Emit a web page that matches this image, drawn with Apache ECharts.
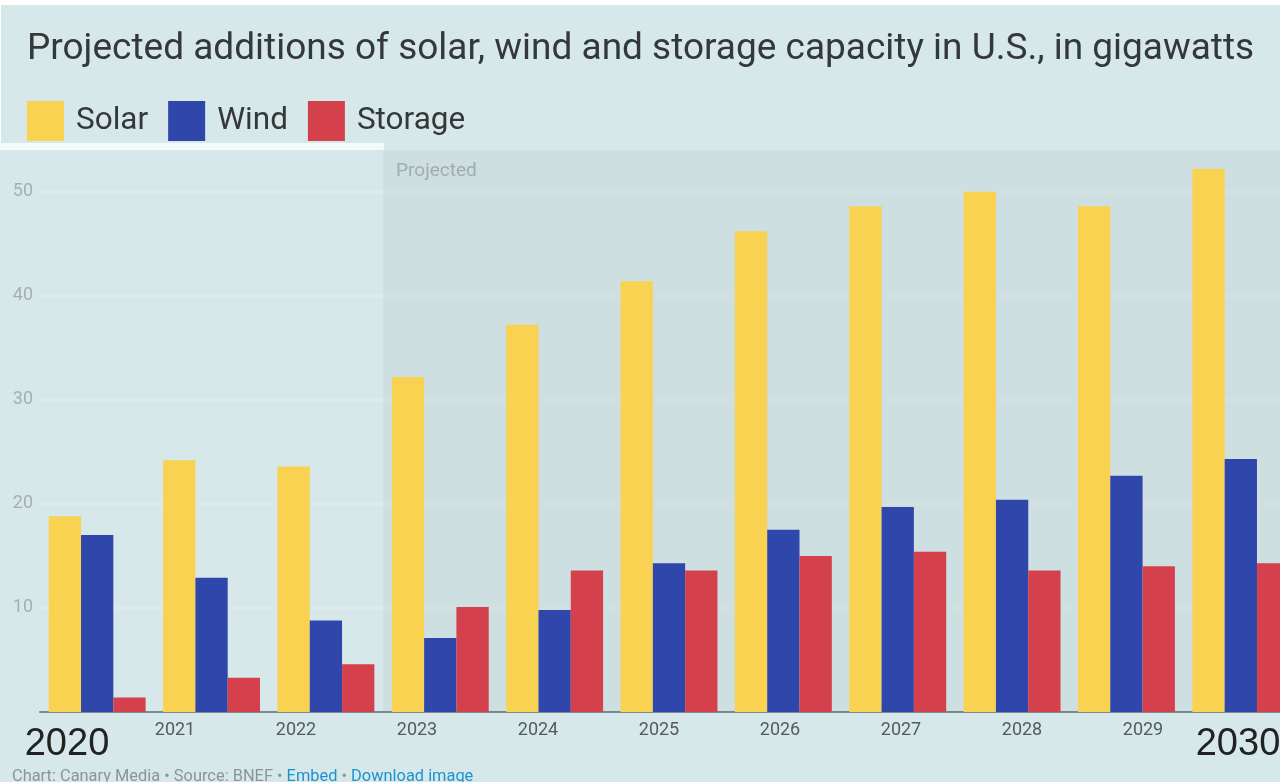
<!DOCTYPE html>
<html>
<head>
<meta charset="utf-8">
<style>
  html, body { margin: 0; padding: 0; background: #d7e8ea; overflow: hidden; }
  /* the last group runs off the right edge in the original, so the canvas is a bit wider than the window */
  #chart { width: 1300px; height: 782px; }
</style>
<script src="https://cdn.jsdelivr.net/npm/echarts@6/dist/echarts.min.js"></script>
</head>
<body>
<div id="chart"></div>
<script>
var years = ['2020', '2021', '2022', '2023', '2024', '2025', '2026', '2027', '2028', '2029', '2030'];
var solar = [18.8, 24.2, 23.6, 32.2, 37.2, 41.4, 46.2, 48.6, 50.0, 48.6, 52.2];
var wind = [17.0, 12.9, 8.8, 7.1, 9.8, 14.3, 17.5, 19.7, 20.4, 22.7, 24.3];
var storage = [1.4, 3.3, 4.6, 10.1, 13.6, 13.6, 15.0, 15.4, 13.6, 14.0, 14.3];
var yTicks = [10, 20, 30, 40, 50];
var projectedFrom = '2023';

var font = 'Roboto, "Noto Sans", sans-serif';
var myChart = echarts.init(document.getElementById('chart'));

function barSeries(name, data, color) {
	return {
		name: name,
		type: 'bar',
		xAxisIndex: 0,
		yAxisIndex: 0,
		barWidth: 32.3,
		barGap: '0%',
		itemStyle: { color: color },
		data: data
	};
}

var option = {
	backgroundColor: '#d7e8ea',
	animation: false,
	title: {
		text: 'Projected additions of solar, wind and storage capacity in U.S., in gigawatts',
		left: 22,
		top: 26,
		textStyle: { fontFamily: font, fontSize: 37, fontWeight: 'normal', color: '#353839' }
	},
	legend: {
		left: 22,
		top: 96,
		icon: 'rect',
		itemWidth: 37,
		itemHeight: 40,
		itemGap: 20,
		textStyle: { fontFamily: font, fontSize: 31.5, color: '#353839', padding: [5, 0, 0, 7] },
		data: ['Solar', 'Wind', 'Storage']
	},
	grid: [
		{ left: 40, top: 150, width: 1258, height: 562 },
		{ left: 54, width: 1210, top: 150, height: 562 }
	],
	xAxis: [
		{
			type: 'category',
			gridIndex: 0,
			data: years,
			axisTick: { show: false },
			axisLabel: { show: false },
			axisLine: { lineStyle: { color: '#7f8b8d', width: 2 } }
		},
		{
			type: 'category',
			gridIndex: 1,
			data: years,
			boundaryGap: false,
			axisLine: { show: false },
			axisTick: { show: false },
			axisLabel: {
				interval: 0,
				margin: 9,
				fontFamily: font,
				fontSize: 18,
				color: '#555a5c',
				formatter: function(v, i) {
					if (i === 0) return '{first|' + v + '}';
					if (i === years.length - 1) return '{last|' + v + '}';
					return v;
				},
				rich: {
					first: { fontFamily: '"Liberation Sans", Arial', fontSize: 38, color: '#222', padding: [5, 0, 0, 26] },
					last: { fontFamily: '"Liberation Sans", Arial', fontSize: 38, color: '#222', padding: [5, 52, 0, 0] }
				}
			}
		},
		{
			type: 'value',
			gridIndex: 0,
			min: 0,
			max: years.length,
			show: false
		}
	],
	yAxis: [
		{
			type: 'value',
			gridIndex: 0,
			min: 0,
			max: 54,
			interval: 10,
			axisLine: { show: false },
			axisTick: { show: false },
			axisLabel: {
				margin: 7,
				fontFamily: font,
				fontSize: 18,
				color: '#a7aeb0',
				formatter: function(v) { return yTicks.indexOf(v) >= 0 ? v : ''; }
			},
			splitLine: { showMaxLine: false, lineStyle: { color: '#e4eaea', width: 2 } }
		},
		{ type: 'value', gridIndex: 1, show: false }
	],
	series: [
		{
			name: 'projected',
			type: 'line',
			xAxisIndex: 2,
			yAxisIndex: 0,
			data: [],
			silent: true,
			markArea: {
				silent: true,
				itemStyle: { color: 'rgba(0, 30, 40, 0.045)' },
				label: {
					show: true,
					position: 'insideTopLeft',
					offset: [8, 7],
					fontFamily: font,
					fontSize: 19,
					color: '#a3abad'
				},
				data: [[
					{ name: 'Projected', xAxis: years.indexOf(projectedFrom) },
					{ xAxis: years.length }
				]]
			}
		},
		barSeries('Solar', solar, '#f9d252'),
		barSeries('Wind', wind, '#2f46ab'),
		barSeries('Storage', storage, '#d4414c')
	],
	graphic: [
		{ type: 'rect', left: 0, top: 0, shape: { width: 1300, height: 5 }, style: { fill: '#ffffff' } },
		{ type: 'rect', left: 0, top: 0, shape: { width: 1, height: 150 }, style: { fill: '#ffffff' } },
		{ type: 'rect', left: 0, top: 143, shape: { width: 384, height: 7 }, style: { fill: '#f4f9fa' } },
		{
			type: 'text',
			left: 12,
			top: 769,
			style: {
				text: '{g|Chart: Canary Media • Source: BNEF • }{b|Embed}{g| • }{b|Download image}',
				rich: {
					g: { fontFamily: font, fontSize: 16.4, fill: '#8b9597' },
					b: { fontFamily: font, fontSize: 16.4, fill: '#1b93d1' }
				}
			}
		}
	]
};
myChart.setOption(option);
</script>
</body>
</html>
